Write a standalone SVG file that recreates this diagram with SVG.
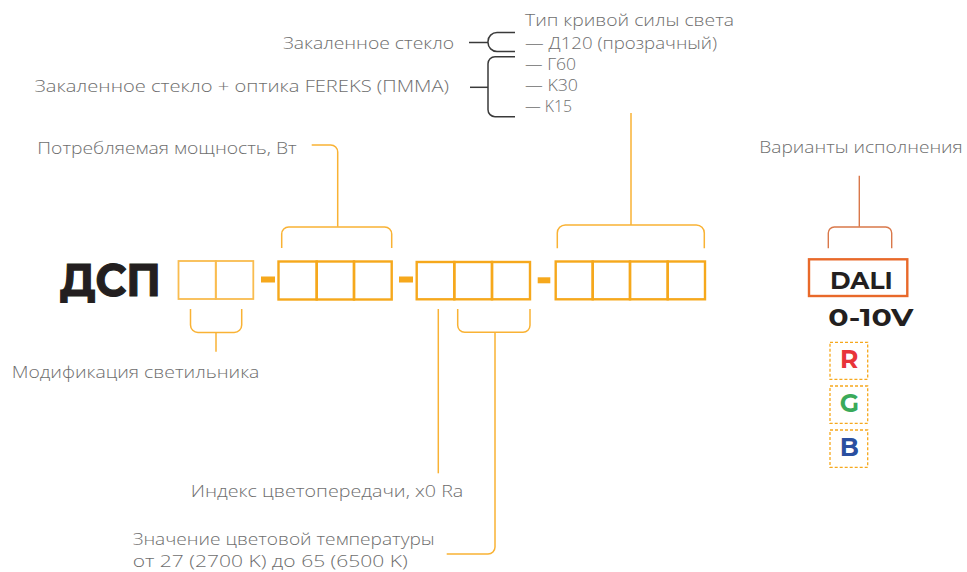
<svg xmlns="http://www.w3.org/2000/svg" width="967" height="572" viewBox="0 0 967 572">
<style>
.lbl{font-family:"Open Sans","Liberation Sans",sans-serif;font-weight:300;font-size:16px;fill:#6e6e6e}
.cell{fill:none;stroke:#f6a81c;stroke-width:2.4}
.cell1{fill:none;stroke:#f9bc4f;stroke-width:1.8}
.dash{fill:#f6a81c}
.ol{fill:none;stroke:#f9b234;stroke-width:1.5}
.gl{fill:none;stroke:#3a3a3a;stroke-width:1.5}
.rl{fill:none;stroke:#d9784a;stroke-width:1.4}
.bold{font-family:"Montserrat","Liberation Sans","DejaVu Sans",sans-serif;font-weight:700}
.rgb{fill:#fff;stroke:#f6a81c;stroke-width:1.3;stroke-dasharray:3 2}
</style>
<rect width="967" height="572" fill="#fff"/>
<g id="connectors">
  <path class="gl" d="M469,42.5 H488"/>
  <path class="gl" d="M515,32.5 H497 A9,9 0 0 0 488,41.5 V42.5 A9,9 0 0 0 497,51.5 H515"/>
  <path class="gl" d="M470,87.3 H488"/>
  <path class="gl" d="M515,56.7 H495 A7,7 0 0 0 488,63.7 V109.7 A7,7 0 0 0 495,116.7 H515"/>
  <path class="ol" d="M311.7,145 H330.7 A7,7 0 0 1 337.7,152 V226.7"/>
  <path class="ol" d="M281.7,248 V234 A7,7 0 0 1 288.7,227 H384.7 A7,7 0 0 1 391.7,234 V248"/>
  <path class="ol" d="M631,113 V225"/>
  <path class="ol" d="M557.3,248.3 V233 A8,8 0 0 1 565.3,225 H696.3 A8,8 0 0 1 704.3,233 V248.3"/>
  <path class="rl" d="M859.3,175.7 V226.7"/>
  <path class="rl" d="M828.3,248.3 V233 A6,6 0 0 1 834.3,227 H885.7 A6,6 0 0 1 891.7,233 V248.3"/>
  <path class="ol" d="M190.5,309 V325 A7.5,7.5 0 0 0 198,332.5 H234.2 A7.5,7.5 0 0 0 241.7,325 V309"/>
  <path class="ol" d="M216,332.5 V351.7"/>
  <path class="ol" d="M438.3,309 V473.3"/>
  <path class="ol" d="M457.7,309 V325.3 A7,7 0 0 0 464.7,332.3 H523 A7,7 0 0 0 530,325.3 V309"/>
  <path class="ol" d="M495,332.3 V547 A7,7 0 0 1 488,554 H446.7"/>
</g>
<g id="title">
  <text class="bold" x="60" y="296" font-size="46" font-weight="900" fill="#231f20" stroke="#231f20" stroke-width="1.2" textLength="101" lengthAdjust="spacingAndGlyphs">ДСП</text>
</g>
<g id="group-modification">
  <rect class="cell1" x="178.5" y="261" width="37.3" height="38"/>
  <rect class="cell1" x="215.8" y="261" width="37.5" height="38"/>
</g>
<rect id="dash1" class="dash" x="261" y="276.5" width="14" height="6"/>
<g id="group-power">
  <rect class="cell" x="278.5" y="261.5" width="38.2" height="38"/>
  <rect class="cell" x="316.7" y="261.5" width="37.3" height="38"/>
  <rect class="cell" x="354" y="261.5" width="37.7" height="38"/>
</g>
<rect id="dash2" class="dash" x="399" y="276.5" width="14" height="6"/>
<g id="group-cri-cct">
  <rect class="cell" x="416.7" y="262" width="37.6" height="37.3"/>
  <rect class="cell" x="454.3" y="262" width="37.7" height="37.3"/>
  <rect class="cell" x="492" y="262" width="38" height="37.3"/>
</g>
<rect id="dash3" class="dash" x="537.7" y="277.3" width="12.6" height="6"/>
<g id="group-optics">
  <rect class="cell" x="555.7" y="261.5" width="37" height="37.8"/>
  <rect class="cell" x="592.7" y="261.5" width="37.3" height="37.8"/>
  <rect class="cell" x="630" y="261.5" width="37.7" height="37.8"/>
  <rect class="cell" x="667.7" y="261.5" width="37.3" height="37.8"/>
</g>
<g id="label-optics">
  <text class="lbl" x="525" y="26" textLength="209" lengthAdjust="spacingAndGlyphs">Тип кривой силы света</text>
  <text class="lbl" x="525" y="48.5" textLength="192" lengthAdjust="spacingAndGlyphs">— Д120 (прозрачный)</text>
  <text class="lbl" x="525" y="69.5" textLength="51" lengthAdjust="spacingAndGlyphs">— Г60</text>
  <text class="lbl" x="525" y="90.5" textLength="53" lengthAdjust="spacingAndGlyphs">— K30</text>
  <text class="lbl" x="525" y="111.5" textLength="47" lengthAdjust="spacingAndGlyphs">— K15</text>
</g>
<g id="label-glass">
  <text class="lbl" x="283" y="49" textLength="171" lengthAdjust="spacingAndGlyphs">Закаленное стекло</text>
</g>
<g id="label-glass-optics">
  <text class="lbl" x="34.5" y="92" textLength="414.5" lengthAdjust="spacingAndGlyphs">Закаленное стекло + оптика FEREKS (ПММА)</text>
</g>
<g id="label-power">
  <text class="lbl" x="37.3" y="153.5" textLength="259.4" lengthAdjust="spacingAndGlyphs">Потребляемая мощность, Вт</text>
</g>
<g id="label-variants">
  <text class="lbl" x="759.3" y="152.7" textLength="203.4" lengthAdjust="spacingAndGlyphs">Варианты исполнения</text>
</g>
<g id="label-modification">
  <text class="lbl" x="11.7" y="377.5" textLength="247.6" lengthAdjust="spacingAndGlyphs">Модификация светильника</text>
</g>
<g id="label-cri">
  <text class="lbl" x="190.7" y="496.7" textLength="272.6" lengthAdjust="spacingAndGlyphs">Индекс цветопередачи, x0 Ra</text>
</g>
<g id="label-cct">
  <text class="lbl" x="132.7" y="545" textLength="302" lengthAdjust="spacingAndGlyphs">Значение цветовой температуры</text>
  <text class="lbl" x="132.7" y="566.7" textLength="275" lengthAdjust="spacingAndGlyphs">от 27 (2700 K) до 65 (6500 K)</text>
</g>
<g id="variant-dali">
  <rect x="809" y="259.3" width="98.3" height="36.7" fill="#fff" stroke="#e8692a" stroke-width="2.4"/>
  <text class="bold" x="830" y="289" font-size="24" fill="#231f20" textLength="62.7" lengthAdjust="spacingAndGlyphs">DALI</text>
</g>
<g id="variant-0-10v">
  <text class="bold" x="828.3" y="326" font-size="23" fill="#231f20" textLength="85" lengthAdjust="spacingAndGlyphs">0-10V</text>
</g>
<g id="variant-r">
  <rect class="rgb" x="830" y="342.3" width="37.7" height="37"/>
  <text class="bold" x="849.3" y="368.3" font-size="25" fill="#e8343a" text-anchor="middle">R</text>
</g>
<g id="variant-g">
  <rect class="rgb" x="830" y="386" width="37.7" height="37.3"/>
  <text class="bold" x="849.3" y="412.3" font-size="25" fill="#3aaa5a" text-anchor="middle">G</text>
</g>
<g id="variant-b">
  <rect class="rgb" x="830" y="430" width="37.7" height="37.3"/>
  <text class="bold" x="849.3" y="456.3" font-size="25" fill="#2a4fa0" text-anchor="middle">B</text>
</g>
</svg>
